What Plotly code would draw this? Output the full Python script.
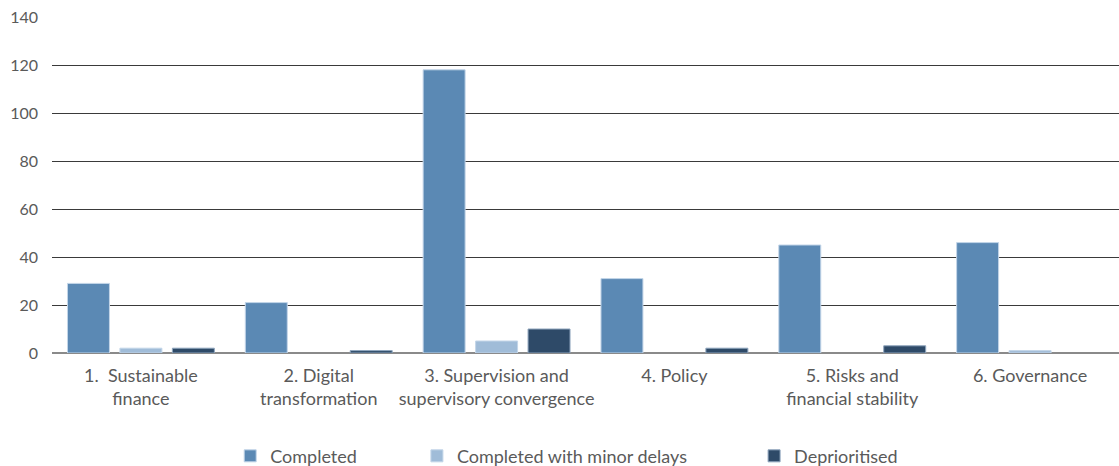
import plotly.graph_objects as go

categories = ["1.  Sustainable<br>finance", "2. Digital<br>transformation",
              "3. Supervision and<br>supervisory convergence", "4. Policy",
              "5. Risks and<br>financial stability", "6. Governance"]
completed = [29, 21, 118, 31, 45, 46]
minor_delays = [2, 0, 5, 0, 0, 1]
deprioritised = [2, 1, 10, 2, 3, 0]
y_ticks = [0, 20, 40, 60, 80, 100, 120, 140]

FONT = "Lato, 'Open Sans', sans-serif"
TXT = "#5a5a5a"


def outline(vals, color):
    return dict(color=color, width=[1 if v > 0 else 0 for v in vals])


fig = go.Figure()
fig.add_trace(go.Bar(x=categories, y=completed, name="Completed",
                     marker=dict(color="#5b89b4", line=outline(completed, "#c3d5e8")),
                     legend="legend", showlegend=True))
fig.add_trace(go.Bar(x=categories, y=minor_delays, name="Completed with minor delays",
                     marker=dict(color="#a0bcd8", line=outline(minor_delays, "#c3d5e8")),
                     legend="legend2", showlegend=True))
fig.add_trace(go.Bar(x=categories, y=deprioritised, name="Deprioritised",
                     marker=dict(color="#2e4a68", line=outline(deprioritised, "#8fa5bd")),
                     legend="legend3", showlegend=True))

leg_common = dict(orientation="h", yanchor="middle", y=-0.307, xanchor="left",
                  font=dict(family=FONT, size=18, color=TXT), bgcolor="rgba(0,0,0,0)")
fig.update_layout(
    width=1119, height=466,
    margin=dict(l=52, r=0, t=17, b=113, autoexpand=False),
    paper_bgcolor="white", plot_bgcolor="white",
    showlegend=True,
    barmode="group", bargap=0.115, bargroupgap=0.2,
    font=dict(family=FONT, size=16, color=TXT),
    legend=dict(x=0.167, **leg_common),
    legend2=dict(x=0.342, **leg_common),
    legend3=dict(x=0.658, **leg_common),
    xaxis=dict(showgrid=False, tickfont=dict(size=18, color=TXT),
               ticks="", showline=False, ticklabelstandoff=10),
    yaxis=dict(range=[0, 140], tickvals=y_ticks, showgrid=True, gridcolor="#3a3a3a",
               gridwidth=1, zeroline=True, zerolinecolor="#8a8a8a", zerolinewidth=2,
               tickfont=dict(size=16, color=TXT), ticklabelstandoff=13, showline=False),
)

fig.write_html("out.html")
